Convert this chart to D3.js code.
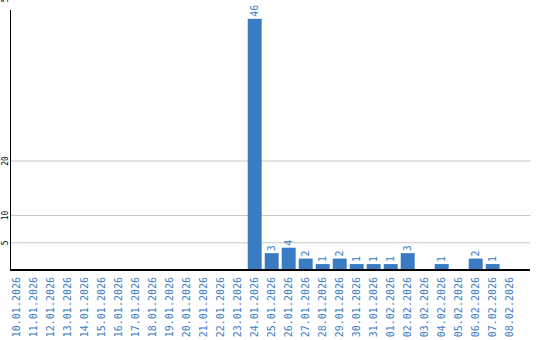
<!DOCTYPE html>
<html>
<head>
<meta charset="utf-8">
<script src="https://cdn.jsdelivr.net/npm/d3@7"></script>
<style>
  body { margin: 0; background: #fff; }
  text { font-family: "DejaVu Sans Mono", monospace; }
</style>
</head>
<body>
<div id="canvas"></div>
<script>
var dates = ["10.01.2026", "11.01.2026", "12.01.2026", "13.01.2026", "14.01.2026",
    "15.01.2026", "16.01.2026", "17.01.2026", "18.01.2026", "19.01.2026",
    "20.01.2026", "21.01.2026", "22.01.2026", "23.01.2026", "24.01.2026",
    "25.01.2026", "26.01.2026", "27.01.2026", "28.01.2026", "29.01.2026",
    "30.01.2026", "31.01.2026", "01.02.2026", "02.02.2026", "03.02.2026",
    "04.02.2026", "05.02.2026", "06.02.2026", "07.02.2026", "08.02.2026"];
var counts = [0, 0, 0, 0, 0, 0, 0, 0, 0, 0,
    0, 0, 0, 0, 46, 3, 4, 2, 1, 2,
    1, 1, 1, 3, 0, 1, 0, 2, 1, 0];
var yTicks = [5, 10, 20, 50];

var blue = "#3a7cc4";

function init() {
    var svg = d3.select("#canvas").append("svg")
        .attr("width", 540)
        .attr("height", 340);

    var x = d3.scaleBand()
        .domain(dates)
        .range([8.2, 518.2])
        .paddingInner(0.18)
        .paddingOuter(0.09);
    var y = d3.scaleLinear()
        .domain([0, 50])
        .range([269.5, -3]);

    // grid + y labels
    var yAxis = svg.append("g")
        .attr("transform", "translate(10.5,0)")
        .call(d3.axisLeft(y).tickValues(yTicks).tickSize(0).tickFormat(d3.format("d")));
    yAxis.select(".domain").remove();
    yAxis.selectAll(".tick line")
        .attr("x1", 0)
        .attr("x2", 520)
        .attr("stroke", "#c8c8c8")
        .attr("stroke-width", 1);
    yAxis.selectAll(".tick text")
        .attr("x", 0).attr("y", 0)
        .attr("transform", "translate(-5,0) rotate(-90)")
        .attr("text-anchor", "middle")
        .attr("dy", "0.35em")
        .attr("font-size", 8)
        .attr("font-family", "DejaVu Sans Mono")
        .attr("fill", "#000");

    // bars
    var data = dates.map(function(d, i) { return { date: d, value: counts[i] }; })
        .filter(function(d) { return d.value > 0; });
    svg.selectAll("rect.bar")
        .data(data)
        .enter().append("rect")
        .attr("class", "bar")
        .attr("x", function(d) { return x(d.date); })
        .attr("width", x.bandwidth())
        .attr("y", function(d) { return y(d.value); })
        .attr("height", function(d) { return y(0) - y(d.value); })
        .attr("fill", blue);

    svg.selectAll("text.val")
        .data(data)
        .enter().append("text")
        .attr("class", "val")
        .attr("transform", function(d) {
            return "translate(" + (x(d.date) + x.bandwidth() / 2) + "," + (y(d.value) - 2) + ") rotate(-90)";
        })
        .attr("dy", "0.35em")
        .attr("font-size", 10)
        .attr("fill", blue)
        .text(function(d) { return d.value; });

    // x axis
    var xAxis = svg.append("g")
        .attr("transform", "translate(0,270)")
        .call(d3.axisBottom(x).tickSize(0));
    xAxis.select(".domain").remove();
    xAxis.selectAll(".tick text")
        .attr("x", 0).attr("y", 0)
        .attr("transform", "translate(0,7) rotate(-90)")
        .attr("text-anchor", "end")
        .attr("dy", "0.35em")
        .attr("font-size", 10)
        .attr("font-family", "DejaVu Sans Mono")
        .attr("fill", blue);

    // axis lines
    svg.append("line")
        .attr("x1", 10.5).attr("x2", 10.5)
        .attr("y1", 10).attr("y2", 270)
        .attr("stroke", "#000").attr("stroke-width", 1);
    svg.append("line")
        .attr("x1", 10).attr("x2", 530)
        .attr("y1", 270).attr("y2", 270)
        .attr("stroke", "#000").attr("stroke-width", 2);
}
window.onload = init;
</script>
</body>
</html>
